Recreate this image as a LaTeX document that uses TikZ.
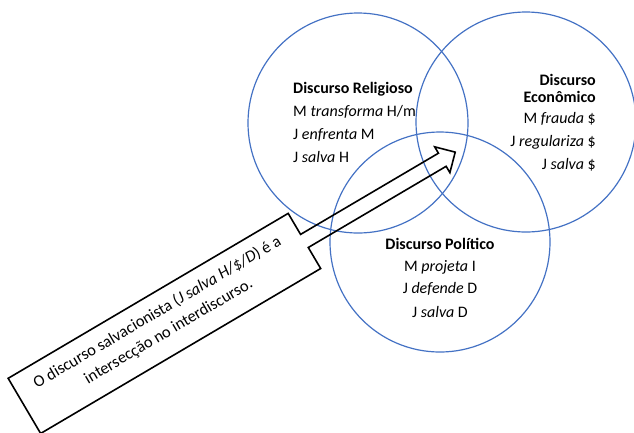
\documentclass[tikz,border=0pt]{standalone}
\usepackage{fontspec}
\setmainfont{Carlito}
\definecolor{venn}{RGB}{68,114,196}
\begin{document}
\begin{tikzpicture}[x=1pt,y=-1pt,
  ring/.style={draw=venn,line width=1.2pt},
  title/.style={font=\fontsize{16}{18}\selectfont\bfseries, inner sep=0pt},
  item/.style={font=\fontsize{16}{18}\selectfont, inner sep=0pt},
  callout/.style={draw=black,line width=1.6pt,line join=miter}]
\useasboundingbox (0,0) rectangle (634,432);
% circles
\draw[ring] (358,123) circle[radius=110];
\draw[ring] (526,122) circle[radius=110];
\draw[ring] (440,242) circle[radius=110];
% Religioso
\node[title,anchor=west] (r0) at (293,89) {Discurso Religioso};
\node[item,anchor=west] (r1) at (293,112) {M \textit{transforma} H/m};
\node[item,anchor=west] (r2) at (293,135) {J \textit{enfrenta} M};
\node[item,anchor=west] (r3) at (293,157) {J \textit{salva} H};
% Economico
\node[title,anchor=east] (e0) at (596,80) {Discurso};
\node[title,anchor=east] (e1) at (596,97) {Econômico};
\node[item,anchor=east] (e2) at (596,119) {M \textit{frauda} \$};
\node[item,anchor=east] (e3) at (596,142) {J \textit{regulariza} \$};
\node[item,anchor=east] (e4) at (596,165) {J \textit{salva} \$};
% Politico
\node[title] (p0) at (440,244) {Discurso Político};
\node[item] (p1) at (440,267) {M \textit{projeta} I};
\node[item] (p2) at (440,289) {J \textit{defende} D};
\node[item] (p3) at (440,312) {J \textit{salva} D};
% callout arrow
\coordinate (O) at (183.8,312);
\begin{scope}[shift={(O)}, x={(0.8616pt,0.5075pt)}, y={(0.5075pt,-0.8616pt)}]
\draw[callout] (-185,-32) -- (140,-32) -- (140,-7.6) -- (300,-7.6) -- (300,-15)
  -- (315,0) -- (300,15) -- (300,7.6) -- (140,7.6) -- (140,32) -- (-185,32) -- cycle;
\node[item,rotate=30.5,align=center,font=\fontsize{16.5}{22}\selectfont] (c) at (-23,-2)
  {O discurso salvacionista (\textit{J salva H/\$/D}) é a\\intersecção no interdiscurso.};
\end{scope}
\end{tikzpicture}
\end{document}
